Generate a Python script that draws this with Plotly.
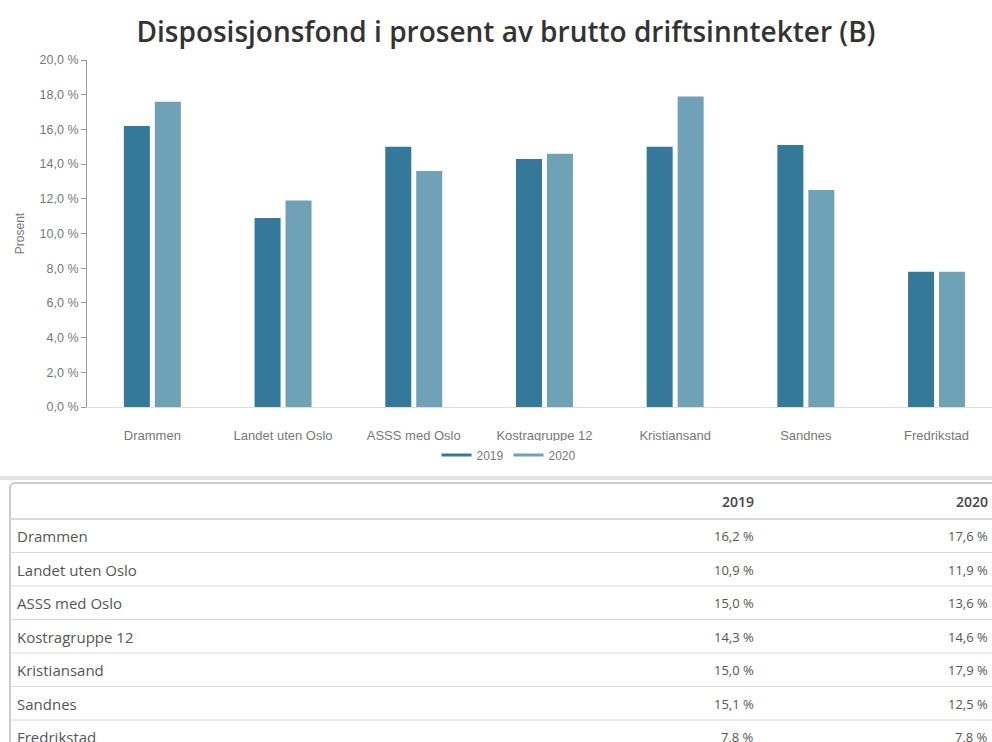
import plotly.graph_objects as go

categories = ["Drammen", "Landet uten Oslo", "ASSS med Oslo", "Kostragruppe 12",
              "Kristiansand", "Sandnes", "Fredrikstad"]
years = ["2019", "2020"]
values_2019 = [16.2, 10.9, 15.0, 14.3, 15.0, 15.1, 7.8]
values_2020 = [17.6, 11.9, 13.6, 14.6, 17.9, 12.5, 7.8]
y_ticks = [0, 2, 4, 6, 8, 10, 12, 14, 16, 18, 20]

colors = ["#34789A", "#6FA2B6"]
W, H = 992, 742
PL, PR, PT, PB = 87, 992, 60, 407  # plot area in px


def px_x(px):
    return (px - PL) / (PR - PL)


def px_y(py):
    return (PB - py) / (PB - PT)


def fmt(v):
    return f"{v:.1f}".replace(".", ",") + " %"


fig = go.Figure()
for yr, vals, col in zip(years, [values_2019, values_2020], colors):
    fig.add_trace(go.Bar(x=categories, y=vals, name=yr, marker_color=col,
                         marker_line_width=0, showlegend=False))
for yr, col in zip(years, colors):
    fig.add_trace(go.Scatter(x=[None], y=[None], mode="lines", name=yr,
                             line=dict(color=col, width=3)))

ann = []
shapes = []
# separator band
shapes.append(dict(type="line", xref="paper", yref="paper", x0=px_x(0), x1=px_x(W),
                   y0=px_y(478), y1=px_y(478), line=dict(color="#E3E3E3", width=4)))
# table outer border (left + top with rounded corner)
shapes.append(dict(type="line", xref="paper", yref="paper", x0=px_x(10), x1=px_x(10),
                   y0=px_y(488), y1=px_y(H + 5), line=dict(color="#9A9A9A", width=1)))
shapes.append(dict(type="line", xref="paper", yref="paper", x0=px_x(15), x1=px_x(W + 5),
                   y0=px_y(483), y1=px_y(483), line=dict(color="#9A9A9A", width=1)))
shapes.append(dict(type="path", xref="paper", yref="paper",
                   path=f"M {px_x(10)},{px_y(488)} Q {px_x(10)},{px_y(483)} {px_x(15)},{px_y(483)}",
                   line=dict(color="#9A9A9A", width=1)))
# row lines
row_lines = [519, 552.5, 586, 619.5, 653, 686.5, 720]
for i, ry in enumerate(row_lines):
    shapes.append(dict(type="line", xref="paper", yref="paper", x0=px_x(10), x1=px_x(W + 5),
                       y0=px_y(ry), y1=px_y(ry),
                       line=dict(color="#D8D8D8", width=2 if i == 0 else 1)))

# header
header_y = 502
col_right = [756, 990]
for yr, xr in zip(years, col_right):
    ann.append(dict(x=px_x(xr), y=px_y(header_y), xref="paper", yref="paper", text=yr,
                    showarrow=False, xanchor="right", yanchor="middle",
                    font=dict(family="Open Sans", size=14, color="#444", weight=600)))
row_start = 536
row_h = 33.5
for i, cat in enumerate(categories):
    ry = row_start + i * row_h
    ann.append(dict(x=px_x(15), y=px_y(ry), xref="paper", yref="paper", text=cat,
                    showarrow=False, xanchor="left", yanchor="middle",
                    font=dict(family="Open Sans", size=15, color="#555")))
    for vals, xr in zip([values_2019, values_2020], col_right):
        ann.append(dict(x=px_x(xr), y=px_y(ry), xref="paper", yref="paper", text=fmt(vals[i]),
                        showarrow=False, xanchor="right", yanchor="middle",
                        font=dict(family="Open Sans", size=13, color="#555")))

fig.update_layout(
    width=W, height=H,
    margin=dict(l=PL, r=W - PR, t=PT, b=H - PB, autoexpand=False),
    paper_bgcolor="white", plot_bgcolor="white",
    title=dict(text="Disposisjonsfond i prosent av brutto driftsinntekter (B)",
               x=506 / W, xref="container", xanchor="center", y=1 - 32 / H, yanchor="middle",
               font=dict(family="Open Sans", size=28, color="#333", weight=600)),
    barmode="group", bargap=0.526, bargroupgap=0.16,
    xaxis=dict(range=[-0.5, -0.5 + (PR - PL) / 130.7], showline=True, linecolor="#DDDDDD",
               linewidth=1, ticks="", showgrid=False, zeroline=False, ticklabelstandoff=16,
               tickfont=dict(family="Liberation Sans", size=13, color="#777")),
    yaxis=dict(range=[0, 20], tickvals=y_ticks, ticktext=[fmt(v) for v in y_ticks],
               showline=True, linecolor="#999999", linewidth=1, ticks="outside", ticklen=5,
               tickcolor="#999999", showgrid=False, zeroline=False,
               tickfont=dict(family="Liberation Sans", size=12.5, color="#777"),
               title=dict(text="Prosent", standoff=12,
                          font=dict(family="Liberation Sans", size=12, color="#777"))),
    legend=dict(orientation="h", x=509 / W, xref="container", xanchor="center",
                y=1 - 455 / H, yref="container", yanchor="middle",
                font=dict(family="Liberation Sans", size=12, color="#777"),
                itemwidth=30, tracegroupgap=0),
    annotations=ann, shapes=shapes,
)

fig.write_html("out.html", config={"displayModeBar": False},
               post_script="document.body.style.margin='0';document.body.style.overflow='hidden';")
